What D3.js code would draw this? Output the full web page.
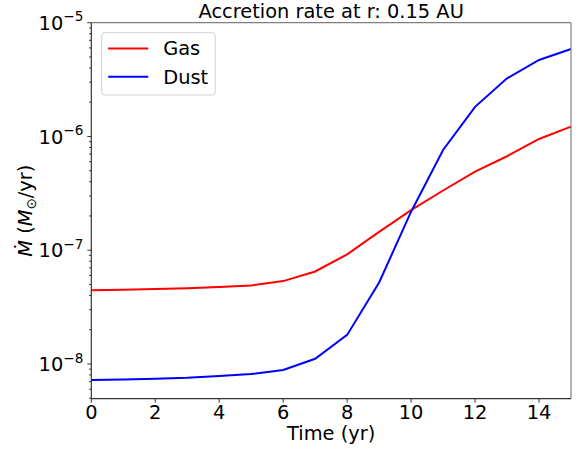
<!DOCTYPE html>
<html>
<head>
<meta charset="utf-8">
<script src="https://cdn.jsdelivr.net/npm/d3@7"></script>
<style>
  body { margin: 0; background: #fff; }
  text { font-family: "DejaVu Sans", sans-serif; fill: #000; }
</style>
</head>
<body>
<div id="chart"></div>
<script>
// data
const years = [0, 1, 2, 3, 4, 5, 6, 7, 8, 9, 10, 11, 12, 13, 14, 15]
const gasRate = [4.45e-8, 4.5e-8, 4.55e-8, 4.62e-8, 4.75e-8, 4.9e-8, 5.35e-8, 6.5e-8,
    9.2e-8, 1.45e-7, 2.25e-7, 3.35e-7, 4.9e-7, 6.7e-7, 9.5e-7, 1.22e-6]
const dustRate = [7.23e-9, 7.3e-9, 7.4e-9, 7.55e-9, 7.85e-9, 8.15e-9, 8.85e-9, 1.11e-8,
    1.8e-8, 5.2e-8, 2.18e-7, 7.6e-7, 1.82e-6, 3.24e-6, 4.7e-6, 5.87e-6]
const seriesNames = ['Gas', 'Dust']
const seriesColors = ['#ff0000', '#0000ff']
const xTicks = [0, 2, 4, 6, 8, 10, 12, 14]
const yMajorExp = [-8, -7, -6, -5]

const width = 584
const height = 451
const margin = {top: 22.7, right: 13, bottom: 52.3, left: 91.3}
const fs = 19.4

const svg = d3.select('#chart')
    .append('svg')
    .attr('width', width)
    .attr('height', height)

const x = d3.scaleLinear()
    .domain([0, 15])
    .range([margin.left, width - margin.right])

const y = d3.scaleLog()
    .domain([4.95e-9, 1e-5])
    .range([height - margin.bottom, margin.top])

const series = seriesNames.map((name, i) => ({
    name,
    color: seriesColors[i],
    values: years.map((t, j) => [t, (i === 0 ? gasRate : dustRate)[j]])
}))

// lines
const line = d3.line()
    .x(d => x(d[0]))
    .y(d => y(d[1]))

svg.append('g')
    .selectAll('path')
    .data(series)
    .enter()
    .append('path')
    .attr('d', d => line(d.values))
    .attr('fill', 'none')
    .attr('stroke', d => d.color)
    .attr('stroke-width', 2)

// spines
const [x0, x1] = x.range()
const [yb, yt] = y.range()
svg.append('line').attr('x1', x0).attr('x2', x1).attr('y1', yt).attr('y2', yt)
    .attr('stroke', '#808080').attr('stroke-width', 1.2)
svg.append('line').attr('x1', x1).attr('x2', x1).attr('y1', yt).attr('y2', yb)
    .attr('stroke', '#808080').attr('stroke-width', 1.2)
svg.append('line').attr('x1', x0).attr('x2', x1).attr('y1', yb).attr('y2', yb)
    .attr('stroke', '#333').attr('stroke-width', 1.2)
svg.append('line').attr('x1', x0).attr('x2', x0).attr('y1', yt).attr('y2', yb)
    .attr('stroke', '#333').attr('stroke-width', 1.2)

// x axis
const xg = svg.append('g')
xg.selectAll('line')
    .data(xTicks)
    .enter()
    .append('line')
    .attr('x1', d => x(d)).attr('x2', d => x(d))
    .attr('y1', yb).attr('y2', yb + 4)
    .attr('stroke', '#333')
xg.selectAll('text')
    .data(xTicks)
    .enter()
    .append('text')
    .attr('x', d => x(d))
    .attr('y', yb + 20.6)
    .attr('text-anchor', 'middle')
    .style('font-size', fs + 'px')
    .text(d => d)

// y axis: minor then major
const minor = []
yMajorExp.forEach(e => {
    for (let k = 2; k <= 9; k++) {
        const v = k * Math.pow(10, e - 1)
        if (v >= y.domain()[0] && v <= y.domain()[1]) minor.push(v)
    }
})
svg.append('g')
    .selectAll('line')
    .data(minor)
    .enter()
    .append('line')
    .attr('x1', x0 - 2.2).attr('x2', x0)
    .attr('y1', d => y(d)).attr('y2', d => y(d))
    .attr('stroke', '#333')

const yg = svg.append('g')
yg.selectAll('line')
    .data(yMajorExp)
    .enter()
    .append('line')
    .attr('x1', x0 - 4).attr('x2', x0)
    .attr('y1', d => y(Math.pow(10, d))).attr('y2', d => y(Math.pow(10, d)))
    .attr('stroke', '#333')
const ylab = yg.selectAll('text')
    .data(yMajorExp)
    .enter()
    .append('text')
    .attr('x', x0 - 8)
    .attr('y', d => y(Math.pow(10, d)) + 7.2)
    .attr('text-anchor', 'end')
    .style('font-size', fs + 'px')
ylab.append('tspan').text('10')
ylab.append('tspan')
    .attr('dy', -8.5)
    .style('font-size', '13.6px')
    .text(d => '\u2212' + (-d))

// title
svg.append('text')
    .attr('x', (x0 + x1) / 2)
    .attr('y', 17.5)
    .attr('text-anchor', 'middle')
    .style('font-size', fs + 'px')
    .text('Accretion rate at r: 0.15 AU')

// x label
svg.append('text')
    .attr('x', (x0 + x1) / 2)
    .attr('y', 440)
    .attr('text-anchor', 'middle')
    .style('font-size', fs + 'px')
    .text('Time (yr)')

// y label
const yl = svg.append('text')
    .attr('transform', `translate(32,${(yt + yb) / 2}) rotate(-90)`)
    .attr('text-anchor', 'middle')
    .style('font-size', fs + 'px')
yl.append('tspan').style('font-style', 'italic').text('\u1E40')
yl.append('tspan').text(' (')
yl.append('tspan').style('font-style', 'italic').text('M')
yl.append('tspan').attr('dy', 4).style('font-size', '13.6px').text('\u2299')
yl.append('tspan').attr('dy', -4).text('/yr)')

// legend
const lg = svg.append('g').attr('transform', 'translate(101.7,32.7)')
lg.append('rect')
    .attr('width', 113.5).attr('height', 62.3)
    .attr('rx', 3)
    .attr('fill', '#fff').attr('fill-opacity', 0.8)
    .attr('stroke', '#d0d0d0').attr('stroke-width', 1)
const item = lg.selectAll('g.item')
    .data(series)
    .enter()
    .append('g')
    .attr('class', 'item')
    .attr('transform', (d, i) => `translate(0,${15.7 + i * 28.3})`)
item.append('line')
    .attr('x1', 6.5).attr('x2', 46.5)
    .attr('stroke', d => d.color).attr('stroke-width', 2)
item.append('text')
    .attr('x', 61.5).attr('y', 7)
    .style('font-size', fs + 'px')
    .text(d => d.name)
</script>
</body>
</html>
